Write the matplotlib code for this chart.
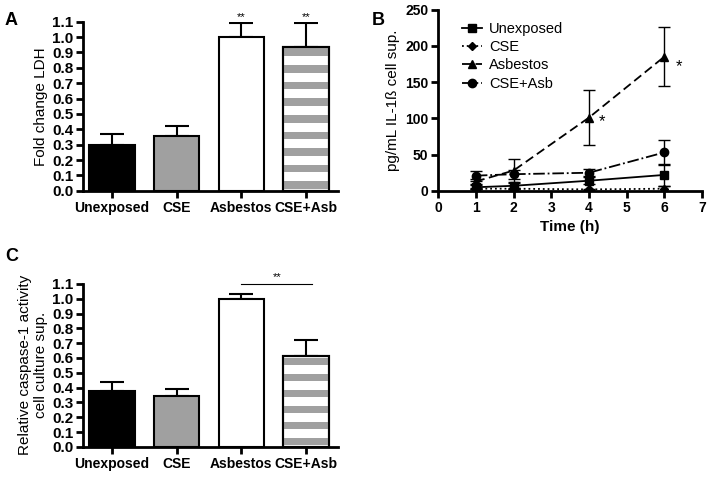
import numpy as np
import matplotlib
matplotlib.use('Agg')
import matplotlib.pyplot as plt

plt.rcParams.update({'font.family': ['Liberation Sans', 'DejaVu Sans'], 'font.size': 10})

groups = ['Unexposed', 'CSE', 'Asbestos', 'CSE+Asb']
ldh_mean = [0.30, 0.355, 1.00, 0.935]
ldh_err = [0.07, 0.065, 0.09, 0.155]
casp_mean = [0.375, 0.345, 1.00, 0.615]
casp_err = [0.06, 0.045, 0.035, 0.105]

time_h = [1, 2, 4, 6]
il_unexp = [5, 7, 14, 22]
il_unexp_err = [3, 4, 5, 15]
il_cse = [3, 3, 2, 3]
il_cse_err = [1, 1, 1, 4]
il_asb = [13, 28, 101, 185]
il_asb_err = [4, 16, 38, 41]
il_cseasb = [21, 23, 25, 53]
il_cseasb_err = [7, 6, 5, 17]

bar_colors = ['black', '#a0a0a0', 'white', 'white']

fig = plt.figure(figsize=(7.09, 4.82), dpi=100)
axA = fig.add_axes([0.117, 0.604, 0.36, 0.351])
axB = fig.add_axes([0.618, 0.604, 0.372, 0.376])
axC = fig.add_axes([0.117, 0.073, 0.36, 0.338])


def style(ax, ysize=10):
    for s in ['top', 'right']:
        ax.spines[s].set_visible(False)
    for s in ['left', 'bottom']:
        ax.spines[s].set_linewidth(2)
    ax.tick_params(width=2, length=5, labelsize=10, pad=2)
    ax.tick_params(axis='y', labelsize=ysize)
    for lab in ax.get_xticklabels() + ax.get_yticklabels():
        lab.set_fontweight('bold')


def bar_panel(ax, means, errs, ylabel):
    x = np.arange(len(groups))
    ax.bar(x, means, 0.7, color=bar_colors, edgecolor='black', linewidth=1.5, zorder=2)
    # grey stripes on the CSE+Asb bar
    top = means[3]
    b = 0.012
    while b < top:
        h = min(0.05, top - b)
        ax.bar(x[3], h, 0.7, bottom=b, color='#a0a0a0', linewidth=0, zorder=2.5)
        b += 0.108
    ax.bar(x[3], top, 0.7, fill=False, edgecolor='black', linewidth=1.5, zorder=3)
    ax.errorbar(x, means, yerr=[np.zeros(len(errs)), errs], fmt='none', ecolor='black',
                elinewidth=1.5, capsize=8.5, capthick=1.5, zorder=1)
    ax.set_xticks(x)
    ax.set_xticklabels(groups)
    ax.set_xlim(-0.45, 3.5)
    ax.set_ylim(0, 1.1)
    ax.set_yticks(np.arange(0, 1.11, 0.1))
    ax.set_yticklabels([f'{v:.1f}' for v in np.arange(0, 1.11, 0.1)])
    ax.set_ylabel(ylabel, fontsize=11, labelpad=3)
    style(ax, ysize=11)


bar_panel(axA, ldh_mean, ldh_err, 'Fold change LDH')
for i in [2, 3]:
    axA.text(i, ldh_mean[i] + ldh_err[i] + 0.005, '**', ha='center', va='bottom', fontsize=8)

bar_panel(axC, casp_mean, casp_err, 'Relative caspase-1 activity\ncell culture sup.')
axC.plot([2, 3.1], [1.1, 1.1], color='black', linewidth=0.8, clip_on=False)
axC.text(2.55, 1.11, '**', ha='center', va='bottom', fontsize=8)

# panel B
kw = dict(color='black', markersize=6, linewidth=1.3, elinewidth=1, capsize=4.5, capthick=1)
series = [
    axB.errorbar(time_h, il_unexp, yerr=il_unexp_err, fmt='-s', **kw),
    axB.errorbar(time_h, il_cse, yerr=il_cse_err, fmt=':D', **{**kw, 'markersize': 4}),
    axB.errorbar(time_h, il_asb, yerr=il_asb_err, fmt='--^', dashes=(5, 2.5), **kw),
    axB.errorbar(time_h, il_cseasb, yerr=il_cseasb_err, fmt='-.o', **kw),
]
axB.text(4.35, 95, '*', fontsize=12, ha='center', va='center')
axB.text(6.38, 172, '*', fontsize=12, ha='center', va='center')
axB.set_xlim(0, 7)
axB.set_ylim(0, 250)
axB.set_xticks(range(0, 8))
axB.set_yticks(range(0, 251, 50))
axB.set_xlabel('Time (h)', fontsize=11, fontweight='bold')
axB.set_ylabel('pg/mL IL-1ß cell sup.', fontsize=11, labelpad=4)
axB.legend([s.lines[0] for s in series], groups,
           loc='upper left', bbox_to_anchor=(0.05, 0.99), frameon=False, fontsize=10.5,
           handlelength=1.4, handletextpad=0.5, labelspacing=0.3, borderaxespad=0.3)
style(axB)

fig.text(0.007, 0.975, 'A', fontsize=13, fontweight='bold', va='top')
fig.text(0.525, 0.975, 'B', fontsize=13, fontweight='bold', va='top')
fig.text(0.007, 0.485, 'C', fontsize=13, fontweight='bold', va='top')

fig.savefig('out.png', dpi=100)
